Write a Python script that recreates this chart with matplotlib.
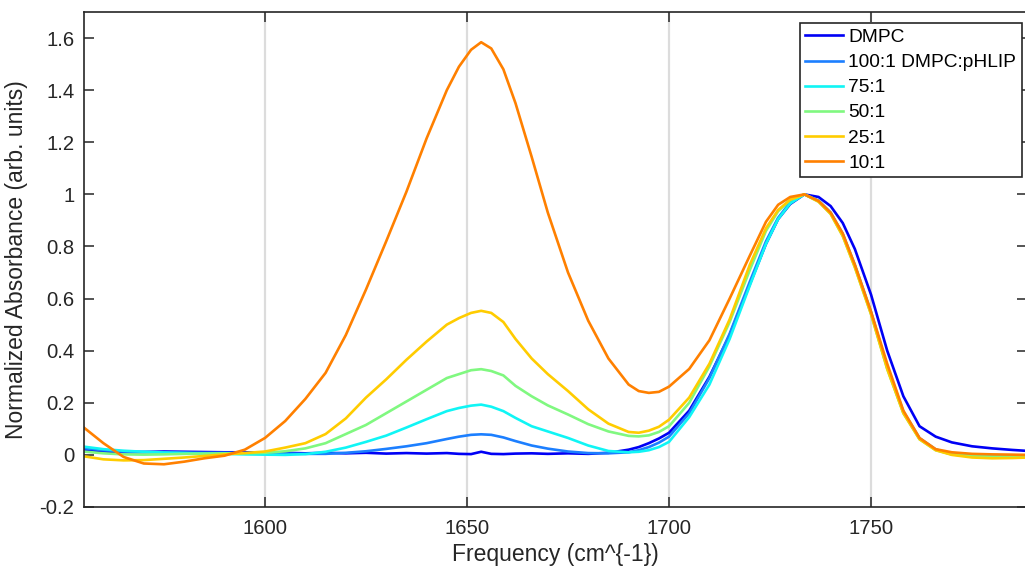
import matplotlib
matplotlib.use("Agg")
import matplotlib.pyplot as plt
from matplotlib.ticker import FuncFormatter

plt.rcParams['font.family'] = ['Liberation Sans', 'DejaVu Sans']

freq = [1555, 1560, 1565, 1570, 1575, 1580, 1585, 1590, 1595, 1600, 1605, 1610, 1615,
        1620, 1625, 1630, 1635, 1640, 1645, 1648, 1651, 1653.5, 1656, 1659, 1662, 1666,
        1670, 1675, 1680, 1685, 1690, 1692.5, 1695, 1697.5, 1700, 1705, 1710, 1715, 1720, 1724, 1727,
        1730, 1733.5, 1737, 1740, 1743, 1746, 1750, 1754, 1758, 1762, 1766, 1770, 1775,
        1780, 1785, 1789]

dmpc = [0.019, 0.013, 0.010, 0.011, 0.013, 0.012, 0.011, 0.010, 0.010, 0.009, 0.008, 0.006, 0.008,
        0.006, 0.008, 0.005, 0.007, 0.005, 0.007, 0.004, 0.003, 0.012, 0.004, 0.003, 0.005, 0.006,
        0.004, 0.006, 0.004, 0.008, 0.020, 0.030, 0.045, 0.063, 0.085, 0.170, 0.300, 0.460, 0.655, 0.810, 0.905,
        0.963, 1.000, 0.990, 0.955, 0.890, 0.790, 0.615, 0.400, 0.225, 0.110, 0.070, 0.048, 0.033,
        0.025, 0.019, 0.015]

r100 = [0.026, 0.018, 0.013, 0.011, 0.010, 0.009, 0.008, 0.008, 0.007, 0.006, 0.005, 0.004, 0.004,
        0.008, 0.014, 0.023, 0.033, 0.045, 0.061, 0.070, 0.077, 0.079, 0.077, 0.067, 0.053, 0.036,
        0.024, 0.013, 0.007, 0.006, 0.010, 0.018, 0.030, 0.047, 0.070, 0.160, 0.295, 0.465, 0.665, 0.820, 0.910,
        0.970, 1.000, 0.976, 0.930, 0.848, 0.728, 0.548, 0.338, 0.166, 0.064, 0.021, 0.003, -0.004,
        -0.006, -0.006, -0.005]

r75 = [0.032, 0.022, 0.016, 0.012, 0.009, 0.007, 0.005, 0.004, 0.002, 0.001, 0.000, 0.003, 0.012,
       0.028, 0.050, 0.074, 0.105, 0.137, 0.168, 0.180, 0.189, 0.193, 0.185, 0.168, 0.142, 0.110,
       0.090, 0.065, 0.036, 0.015, 0.010, 0.012, 0.018, 0.030, 0.050, 0.145, 0.270, 0.445, 0.650, 0.810, 0.905,
       0.965, 1.000, 0.975, 0.928, 0.845, 0.725, 0.545, 0.335, 0.163, 0.062, 0.020, 0.002, -0.004,
       -0.006, -0.006, -0.005]

r50 = [0.013, 0.006, 0.002, 0.001, 0.002, 0.004, 0.005, 0.006, 0.006, 0.008, 0.014, 0.025, 0.045,
       0.080, 0.115, 0.160, 0.205, 0.250, 0.295, 0.310, 0.325, 0.329, 0.322, 0.305, 0.265, 0.225,
       0.190, 0.155, 0.118, 0.090, 0.073, 0.071, 0.075, 0.088, 0.110, 0.200, 0.340, 0.510, 0.710, 0.860, 0.935,
       0.978, 1.000, 0.972, 0.925, 0.840, 0.720, 0.540, 0.330, 0.160, 0.060, 0.018, 0.002, -0.005,
       -0.007, -0.007, -0.006]

r25 = [-0.005, -0.017, -0.021, -0.020, -0.015, -0.010, -0.004, 0.002, 0.007, 0.013, 0.028, 0.045, 0.080,
       0.140, 0.220, 0.290, 0.365, 0.435, 0.500, 0.525, 0.545, 0.553, 0.545, 0.510, 0.445, 0.370,
       0.310, 0.245, 0.175, 0.120, 0.088, 0.085, 0.093, 0.108, 0.135, 0.220, 0.350, 0.520, 0.730, 0.870, 0.940,
       0.980, 1.000, 0.972, 0.925, 0.840, 0.720, 0.540, 0.330, 0.160, 0.060, 0.018, 0.000, -0.010,
       -0.013, -0.012, -0.010]

r10 = [0.107, 0.045, -0.008, -0.033, -0.036, -0.026, -0.013, -0.003, 0.020, 0.065, 0.130, 0.215, 0.315,
       0.460, 0.635, 0.820, 1.010, 1.215, 1.400, 1.490, 1.555, 1.584, 1.560, 1.480, 1.350, 1.144,
       0.930, 0.700, 0.515, 0.370, 0.270, 0.245, 0.238, 0.242, 0.262, 0.330, 0.440, 0.600, 0.765, 0.895, 0.960,
       0.990, 1.000, 0.975, 0.930, 0.850, 0.730, 0.550, 0.350, 0.170, 0.065, 0.022, 0.010, 0.004,
       0.002, 0.001, 0.000]

labels = ['DMPC', '100:1 DMPC:pHLIP', '75:1', '50:1', '25:1', '10:1']
series = [dmpc, r100, r75, r50, r25, r10]
colors = ['#0000F5', '#1C7FFF', '#10F5F5', '#80F880', '#FFCC00', '#FF8000']

xticks = [1600, 1650, 1700, 1750]
yticks = [-0.2, 0, 0.2, 0.4, 0.6, 0.8, 1, 1.2, 1.4, 1.6]

fig = plt.figure(figsize=(10.25, 5.67), dpi=100)
ax = fig.add_axes([84/1025, 60/567, (1027-84)/1025, (507-12)/567])

for y, lab, c in zip(series, labels, colors):
    ax.plot(freq, y, color=c, lw=1.9, label=lab)

ax.set_xlim(1555.2, 1788.6)
ax.set_ylim(-0.2, 1.7)
ax.set_xticks(xticks)
ax.set_yticks(yticks)
ax.yaxis.set_major_formatter(FuncFormatter(lambda v, p: '%g' % round(v, 3)))
ax.xaxis.grid(True, color='#DCDCDC', lw=1.6)
ax.set_axisbelow(True)

dark = '#262626'
for s in ax.spines.values():
    s.set_color(dark)
    s.set_linewidth(1.2)
ax.tick_params(direction='in', length=7, width=1.1, colors=dark, labelsize=14.6,
               top=True, right=True, pad=7)
ax.tick_params(axis='x', pad=9)

ax.set_xlabel('Frequency (cm^{-1})', fontsize=16.5, color=dark, labelpad=3)
ax.set_ylabel('Normalized Absorbance (arb. units)', fontsize=16.5, color=dark, labelpad=8)

leg = ax.legend(loc='upper right', bbox_to_anchor=((1022-84)/(1027-84), (507-23)/495),
                borderaxespad=0, fontsize=13.8, frameon=True, fancybox=False,
                handlelength=1.95, handletextpad=0.3, labelspacing=0.40, borderpad=0.3)
fr = leg.get_frame()
fr.set_edgecolor(dark)
fr.set_linewidth(1.2)
fr.set_alpha(1)

fig.savefig('out.png', dpi=100)
